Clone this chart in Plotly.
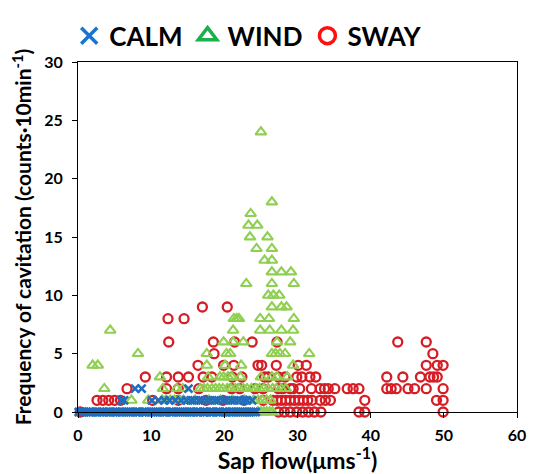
import plotly.graph_objects as go

# ---- data: sap flow (x) grouped by cavitation count (y) ----
calm_counts = [0, 1, 2]
calm_flow = [
    [0.1, 0.4, 0.6, 0.9, 1.2, 1.5, 1.7, 2.0, 2.4, 2.7, 3.0, 3.3, 3.5, 3.9, 4.2, 4.5, 4.8, 5.1, 5.3, 5.7,
     6.0, 6.3, 6.6, 6.9, 7.2, 7.5, 7.9, 8.1, 8.4, 8.8, 9.1, 9.3, 9.7, 10.0, 10.3, 10.6, 10.9, 11.2, 11.6,
     11.8, 12.1, 12.5, 12.8, 13.0, 13.4, 13.7, 14.0, 14.3, 14.6, 14.9, 15.2, 15.5, 15.8, 16.2, 16.4, 16.7,
     17.1, 17.3, 17.6, 18.0, 18.2, 18.5, 18.9, 19.2, 19.4, 19.8, 20.1, 20.3, 20.7, 21.0, 21.3, 21.6, 21.9,
     22.2, 22.5, 22.8, 23.1, 23.4, 23.7, 24.0, 24.3],
    [5.9, 6.3, 10.1, 11.0, 11.8, 12.5, 13.3, 14.1, 14.8, 15.4, 15.9, 16.5, 17.0, 17.6, 18.1, 18.7, 19.2,
     19.8, 20.3, 20.9, 21.4, 22.0, 22.6, 23.1, 23.8],
    [7.8, 8.7, 15.1],
]

wind_counts = [0, 1, 2, 3, 4, 5, 6, 7, 8, 9, 10, 11, 12, 13, 14, 15, 16, 17, 18, 24]
wind_flow = [
    [24.6, 25.0, 25.4, 25.8, 26.2, 26.6],
    [7.3, 9.6, 11.5, 12.0, 12.6, 13.2, 13.8, 14.4, 16.0, 17.9, 19.5, 21.1, 22.8, 24.0, 24.6, 25.2, 25.8, 26.3],
    [3.6, 11.6, 13.5, 14.3, 16.7, 17.2, 17.7, 18.3, 18.8, 19.3, 19.8, 20.4, 20.9, 21.5, 22.0, 22.6, 23.1,
     23.7, 24.3, 24.8, 25.4, 26.0, 26.6, 27.1, 27.8, 28.4],
    [11.2, 17.8, 19.4, 19.9, 20.5, 21.0, 22.2, 25.0, 26.5, 27.2, 28.6],
    [2.0, 2.7, 17.6, 20.1, 22.3, 29.4],
    [8.2, 17.6, 20.3, 20.8, 26.5, 27.0, 27.6, 28.3, 31.6],
    [19.9, 21.2, 22.6, 27.2, 29.0],
    [4.4, 21.2, 24.9, 26.2, 27.8, 29.4],
    [21.3, 21.7, 22.0, 24.9, 26.1, 29.5],
    [26.5, 27.8, 28.5],
    [26.0, 26.7, 27.5],
    [23.0, 26.5, 29.5],
    [26.5, 27.8, 29.1],
    [25.5, 26.5],
    [24.4, 26.5],
    [23.5, 25.9],
    [23.3, 24.5],
    [23.6],
    [26.5],
    [25.0],
]

sway_counts = [0, 1, 2, 3, 4, 5, 6, 8, 9]
sway_flow = [
    [0.3, 27.4, 28.2, 29.0, 29.9, 30.7, 31.5, 32.3, 33.2, 38.4, 39.2, 49.9],
    [2.6, 3.4, 4.2, 5.0, 5.8, 10.2, 13.7, 17.5, 19.8, 22.7, 25.3, 26.6, 27.2, 27.8, 28.4, 29.0, 29.6,
     30.2, 30.8, 31.4, 32.0, 33.1, 33.8, 34.5, 39.2, 49.0, 49.9],
    [6.7, 12.1, 13.7, 16.5, 21.0, 22.1, 24.2, 25.3, 27.4, 28.0, 29.0, 29.4, 30.3, 31.9, 33.1, 33.7,
     34.2, 35.1, 36.8, 37.6, 38.4, 42.2, 42.8, 43.5, 45.1, 46.0, 47.6, 49.9],
    [9.2, 12.1, 13.7, 15.1, 17.1, 18.3, 21.1, 22.4, 25.5, 26.0, 27.4, 28.3, 29.9, 30.6, 31.7, 32.5,
     42.2, 44.4, 46.8, 48.1, 48.6, 49.1],
    [16.4, 19.9, 21.3, 24.6, 25.1, 27.1, 30.1, 31.2, 47.6, 49.1, 49.9],
    [18.6, 48.5],
    [12.4, 18.5, 21.4, 23.8, 27.2, 43.7, 47.6],
    [12.3, 14.5],
    [17.0, 20.4],
]

x_ticks = [0, 10, 20, 30, 40, 50, 60]
y_ticks = [0, 5, 10, 15, 20, 25, 30]


def flatten(counts, flows):
    xs, ys = [], []
    for c, row in zip(counts, flows):
        for v in row:
            xs.append(v)
            ys.append(c)
    return xs, ys


FONT = "Lato"
fig = go.Figure()

# legend entries (legend glyph colours differ from data colours in the original)
legend_specs = [
    ("CALM", "x-thin-open", "#1874cd"),
    ("WIND", "triangle-up-open", "#1db04a"),
    ("SWAY", "circle-open", "#ff1010"),
]
for name, sym, col in legend_specs:
    fig.add_trace(go.Scatter(
        x=[None], y=[None], mode="markers", name=name,
        marker=dict(symbol=sym, size=16, color=col, line=dict(color=col, width=3.5)),
    ))

sx, sy = flatten(sway_counts, sway_flow)
fig.add_trace(go.Scatter(
    x=sx, y=sy, mode="markers", showlegend=False, cliponaxis=False,
    marker=dict(symbol="circle-open", size=9, color="#d61c24", line=dict(color="#d61c24", width=2.3)),
))
wx, wy = flatten(wind_counts, wind_flow)
fig.add_trace(go.Scatter(
    x=wx, y=wy, mode="markers", showlegend=False, cliponaxis=False,
    marker=dict(symbol="triangle-up-open", size=9.5, color="#8fcf52", line=dict(color="#8fcf52", width=2.1)),
))
cx, cy = flatten(calm_counts, calm_flow)
fig.add_trace(go.Scatter(
    x=cx, y=cy, mode="markers", showlegend=False, cliponaxis=False,
    marker=dict(symbol="x-thin-open", size=8, color="#1f6dc0", line=dict(color="#1f6dc0", width=2.6)),
))

axis_common = dict(
    showgrid=False, zeroline=False, showline=True, linecolor="black", linewidth=1,
    mirror=True, ticks="outside", ticklen=5, tickcolor="black", tickwidth=1, automargin=False,
    tickfont=dict(family=FONT, size=16, color="black", weight="bold"),
)

fig.update_xaxes(
    range=[0, 60], tickvals=x_ticks, ticklabelstandoff=4, **axis_common,
    title=dict(text="Sap flow(μms<sup>-1</sup>)", font=dict(family=FONT, size=23, color="black", weight="bold"),
               standoff=9),
)
fig.update_yaxes(
    range=[0, 30], tickvals=y_ticks, ticklabelstandoff=6, **axis_common,
    title=dict(text="Frequency of cavitation (counts·10min<sup>-1</sup>)",
               font=dict(family=FONT, size=21, color="black", weight="bold"), standoff=6),
)

fig.update_layout(
    width=534, height=474,
    margin=dict(l=78, r=17, t=46, b=62),
    paper_bgcolor="white", plot_bgcolor="white",
    legend=dict(orientation="h", x=-0.02, xanchor="left", y=1.075, yanchor="middle",
                font=dict(family=FONT, size=26, color="black", weight="bold"),
                itemwidth=30, tracegroupgap=0, bgcolor="rgba(0,0,0,0)"),
)

fig.write_html("out.html")
